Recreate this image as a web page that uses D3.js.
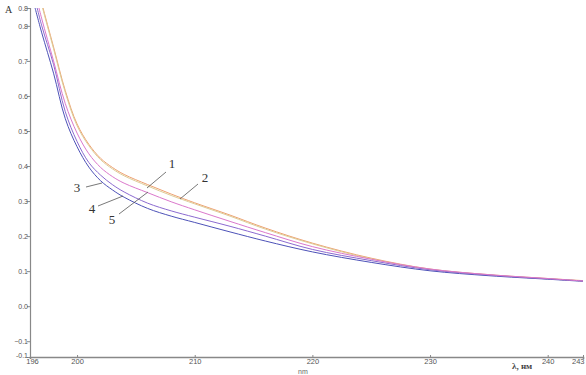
<!DOCTYPE html>
<html><head><meta charset="utf-8">
<script src="https://cdn.jsdelivr.net/npm/d3@7/dist/d3.min.js"></script>
<style>body{margin:0;background:#fff}svg{display:block}</style>
</head><body>
<svg id="c" width="586" height="375"></svg>
<script>
const wavelengths = [196.4, 197, 198, 199, 200, 201, 202, 203, 204, 206, 208, 210, 213, 216, 220, 225, 230, 235, 240, 243];
const curve1 = [0.95, 0.865, 0.74, 0.615, 0.52, 0.462, 0.422, 0.396, 0.376, 0.347, 0.32, 0.295, 0.26, 0.223, 0.18, 0.137, 0.106, 0.09, 0.079, 0.073];
const curve2 = [0.945, 0.86, 0.735, 0.61, 0.515, 0.458, 0.418, 0.392, 0.372, 0.343, 0.316, 0.292, 0.257, 0.22, 0.178, 0.135, 0.105, 0.089, 0.078, 0.072];
const curve3 = [0.855, 0.78, 0.665, 0.535, 0.455, 0.397, 0.358, 0.332, 0.311, 0.279, 0.257, 0.239, 0.212, 0.186, 0.155, 0.125, 0.101, 0.087, 0.077, 0.071];
const curve4 = [0.88, 0.80, 0.69, 0.555, 0.47, 0.41, 0.374, 0.347, 0.326, 0.294, 0.272, 0.254, 0.228, 0.2, 0.162, 0.13, 0.104, 0.089, 0.078, 0.072];
const curve5 = [0.90, 0.82, 0.70, 0.578, 0.494, 0.435, 0.396, 0.37, 0.351, 0.324, 0.298, 0.275, 0.242, 0.21, 0.17, 0.134, 0.106, 0.09, 0.079, 0.072];
const seriesNames = ["1", "2", "3", "4", "5"];
const xTicks = [196, 200, 210, 220, 230, 240, 243];
const yTicks = [0.8, 0.7, 0.6, 0.5, 0.4, 0.3, 0.2, 0.1, 0.0, -0.1];
const yMin = -0.145, yMax = 0.851;

const svg = d3.select("#c");
const x = d3.scaleLinear().domain([196, 243]).range([30, 583]);
const y = d3.scaleLinear().domain([yMin, yMax]).range([357, 8]);

svg.append("defs").append("clipPath").attr("id", "clip")
  .append("rect").attr("x", 30).attr("y", 8).attr("width", 553).attr("height", 349);

const series = [
  {name: "1", vals: curve1, color: "#eea070"},
  {name: "2", vals: curve2, color: "#ddcc96"},
  {name: "3", vals: curve3, color: "#4d52b8"},
  {name: "4", vals: curve4, color: "#8b6ad0"},
  {name: "5", vals: curve5, color: "#db78cc"}
];
const line = d3.line().x(d => x(d[0])).y(d => y(d[1])).curve(d3.curveCatmullRom.alpha(0.5));
const g = svg.append("g").attr("clip-path", "url(#clip)");
series.forEach(s => {
  g.append("path").datum(wavelengths.map((w, i) => [w, s.vals[i]]))
    .attr("d", line).attr("fill", "none").attr("stroke", s.color).attr("stroke-width", 1);
});

// axes
const yAxis = d3.axisLeft(y).tickValues([yMax, ...yTicks, yMin]).tickSize(3)
  .tickFormat(d => d === yMax ? "0.8" : d === yMin ? "-0.1" : d3.format(".1f")(d));
const ya = svg.append("g").attr("transform", "translate(30,0)").call(yAxis);
ya.select(".domain").attr("stroke", "#888").attr("stroke-width", 1.2);
ya.selectAll(".tick line").attr("stroke", "#888");
ya.selectAll(".tick text").attr("font-family", "Liberation Sans, Arial, sans-serif").attr("font-size", 7).attr("fill", "#555").attr("x", -2);
ya.selectAll(".tick").filter(d => d === yMin).select("text").attr("dy", "0.1em");

const xAxis = d3.axisBottom(x).tickValues(xTicks).tickSize(2).tickFormat(d3.format("d"));
const xa = svg.append("g").attr("transform", "translate(0,357)").call(xAxis);
xa.select(".domain").attr("stroke", "#888").attr("stroke-width", 1.6);
xa.selectAll(".tick line").attr("stroke", "#888").attr("y2", -2);
xa.selectAll(".tick text").attr("font-family", "Liberation Sans, Arial, sans-serif").attr("font-size", 7.5).attr("fill", "#555").attr("dy", "0.3em").attr("y", 5);
xa.selectAll(".tick").filter(d => d === 243).select("text").attr("text-anchor", "end").attr("x", 1);
xa.selectAll(".tick").filter(d => d === 196).select("text").attr("x", 2);

svg.append("text").attr("x", 5).attr("y", 13).text("A")
  .attr("font-family", "Liberation Serif, Times New Roman, serif").attr("font-size", 10).attr("fill", "#333");
svg.append("text").attr("x", 512).attr("y", 369).text("λ, нм")
  .attr("font-family", "Liberation Serif, Times New Roman, serif").attr("font-size", 9).attr("font-weight", "bold").attr("fill", "#444");
svg.append("text").attr("x", 298).attr("y", 374).text("nm")
  .attr("font-family", "Liberation Sans, Arial, sans-serif").attr("font-size", 7).attr("fill", "#666");

// curve labels and leaders
const labels = [
  {t: seriesNames[0], tx: 172, ty: 168, l: [166, 172, 147, 188]},
  {t: seriesNames[1], tx: 205, ty: 182, l: [198, 184, 180, 199]},
  {t: seriesNames[2], tx: 77, ty: 192, l: [86, 187, 102, 183]},
  {t: seriesNames[3], tx: 92, ty: 213, l: [98, 206, 123, 196]},
  {t: seriesNames[4], tx: 112, ty: 224, l: [119, 214, 148, 192]}
];
labels.forEach(d => {
  svg.append("line").attr("x1", d.l[0]).attr("y1", d.l[1]).attr("x2", d.l[2]).attr("y2", d.l[3])
    .attr("stroke", "#555").attr("stroke-width", 0.8);
  svg.append("text").attr("x", d.tx).attr("y", d.ty).attr("text-anchor", "middle").text(d.t)
    .attr("font-family", "Liberation Serif, Times New Roman, serif").attr("font-size", 13).attr("fill", "#333");
});
</script>
</body></html>
